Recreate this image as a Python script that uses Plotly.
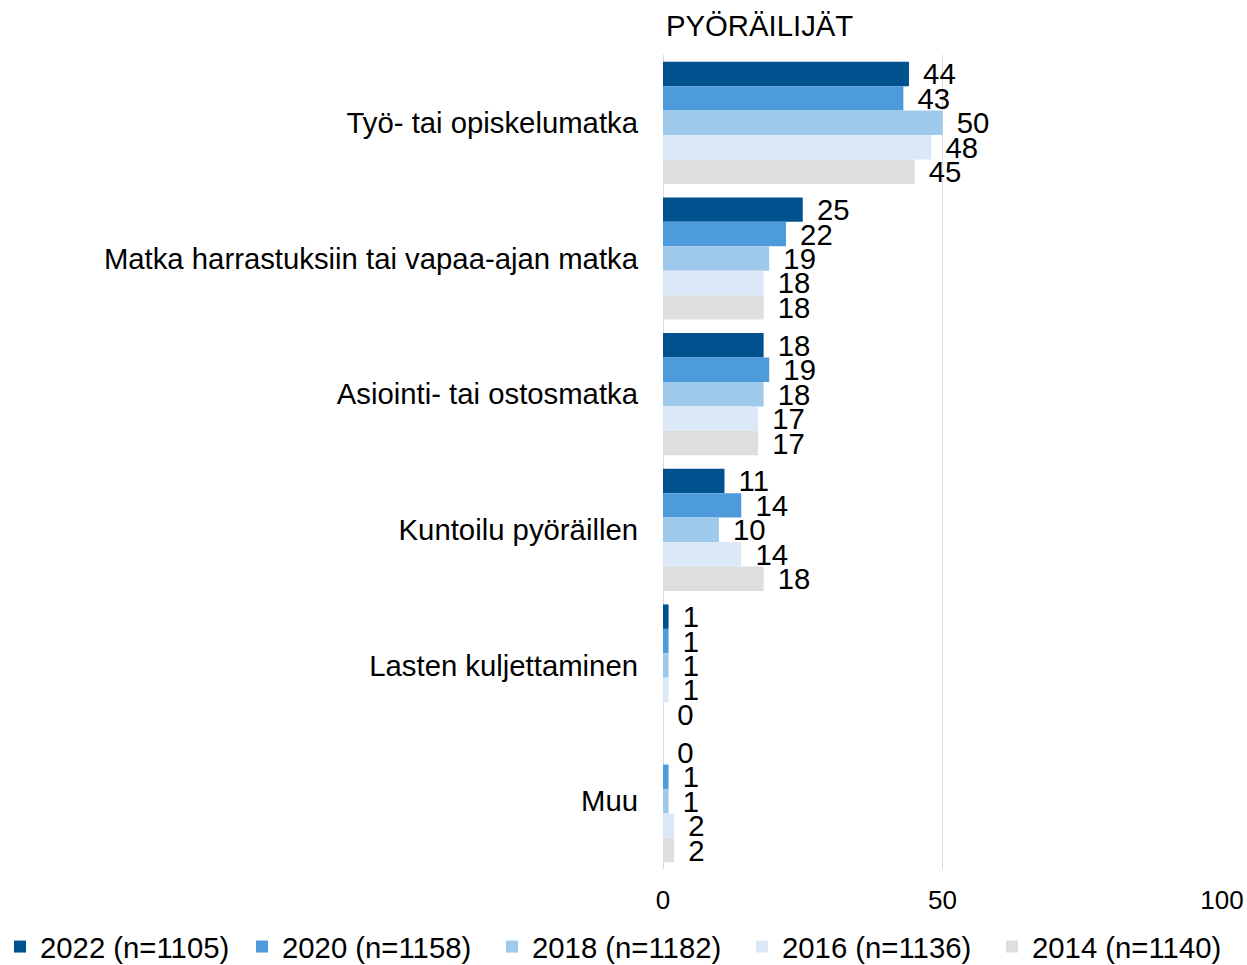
import plotly.graph_objects as go

# Trip purposes for cyclists, share of respondents (%)
categories = [
    "Työ- tai opiskelumatka",
    "Matka harrastuksiin tai vapaa-ajan matka",
    "Asiointi- tai ostosmatka",
    "Kuntoilu pyöräillen",
    "Lasten kuljettaminen",
    "Muu",
]

series_names = [
    "2022 (n=1105)",
    "2020 (n=1158)",
    "2018 (n=1182)",
    "2016 (n=1136)",
    "2014 (n=1140)",
]

values_2022 = [44, 25, 18, 11, 1, 0]
values_2020 = [43, 22, 19, 14, 1, 1]
values_2018 = [50, 19, 18, 10, 1, 1]
values_2016 = [48, 18, 17, 14, 1, 2]
values_2014 = [45, 18, 17, 18, 0, 2]

series_values = [values_2022, values_2020, values_2018, values_2016, values_2014]
colors = ["#00528F", "#4E9BDB", "#9FC9EB", "#DAE8F7", "#DEDEE0"]

x_ticks = [0, 50, 100]
title_text = "PYÖRÄILIJÄT"

FONT = "Liberation Sans, Arial, sans-serif"
BIG = 29.3
W, H = 1247, 965

fig = go.Figure()
legend_ids = ["legend", "legend2", "legend3", "legend4", "legend5"]
for name, vals, col, lg in zip(series_names, series_values, colors, legend_ids):
    fig.add_trace(
        go.Bar(
            name=name,
            y=categories,
            x=vals,
            orientation="h",
            legend=lg,
            marker=dict(color=col, line=dict(width=0)),
            text=vals,
            texttemplate="<span style='font-size:20px'>\u00a0\u00a0</span>%{x}",
            textposition="outside",
            constraintext="none",
            cliponaxis=False,
            textfont=dict(family=FONT, size=BIG, color="#000000"),
        )
    )

# one legend box per series, spaced evenly along the bottom edge
legend_boxes = {}
for i, lg in enumerate(legend_ids):
    legend_boxes[lg] = dict(
        orientation="h",
        xref="container",
        yref="container",
        x=(-8 + 250 * i) / W,
        xanchor="left",
        y=1 - 947 / H,
        yanchor="middle",
        font=dict(family=FONT, size=BIG, color="#000000"),
        bgcolor="rgba(0,0,0,0)",
        itemclick=False,
        itemdoubleclick=False,
    )

fig.update_layout(
    width=W,
    height=H,
    barmode="group",
    bargap=0.10,
    bargroupgap=0,
    plot_bgcolor="white",
    paper_bgcolor="white",
    font=dict(family=FONT, size=BIG, color="#000000"),
    margin=dict(l=663, r=25, t=55, b=96, autoexpand=False),
    title=dict(
        text=title_text,
        x=0,
        xref="paper",
        xanchor="left",
        y=0.973,
        yref="container",
        yanchor="middle",
        font=dict(family=FONT, size=BIG, color="#000000"),
        pad=dict(l=3),
    ),
    xaxis=dict(
        range=[0, 100],
        tickvals=x_ticks,
        ticktext=[str(t) for t in x_ticks],
        showgrid=True,
        gridcolor="#D9D9D9",
        gridwidth=1,
        zeroline=True,
        zerolinecolor="#D9D9D9",
        zerolinewidth=1,
        showline=False,
        ticks="",
        ticklabelstandoff=13,
        tickfont=dict(family=FONT, size=26, color="#000000"),
    ),
    yaxis=dict(
        autorange="reversed",
        showgrid=False,
        zeroline=False,
        showline=False,
        ticks="",
        ticklabelstandoff=24,
        tickfont=dict(family=FONT, size=BIG, color="#000000"),
    ),
    showlegend=True,
    **legend_boxes,
)

fig.write_html("out.html")
